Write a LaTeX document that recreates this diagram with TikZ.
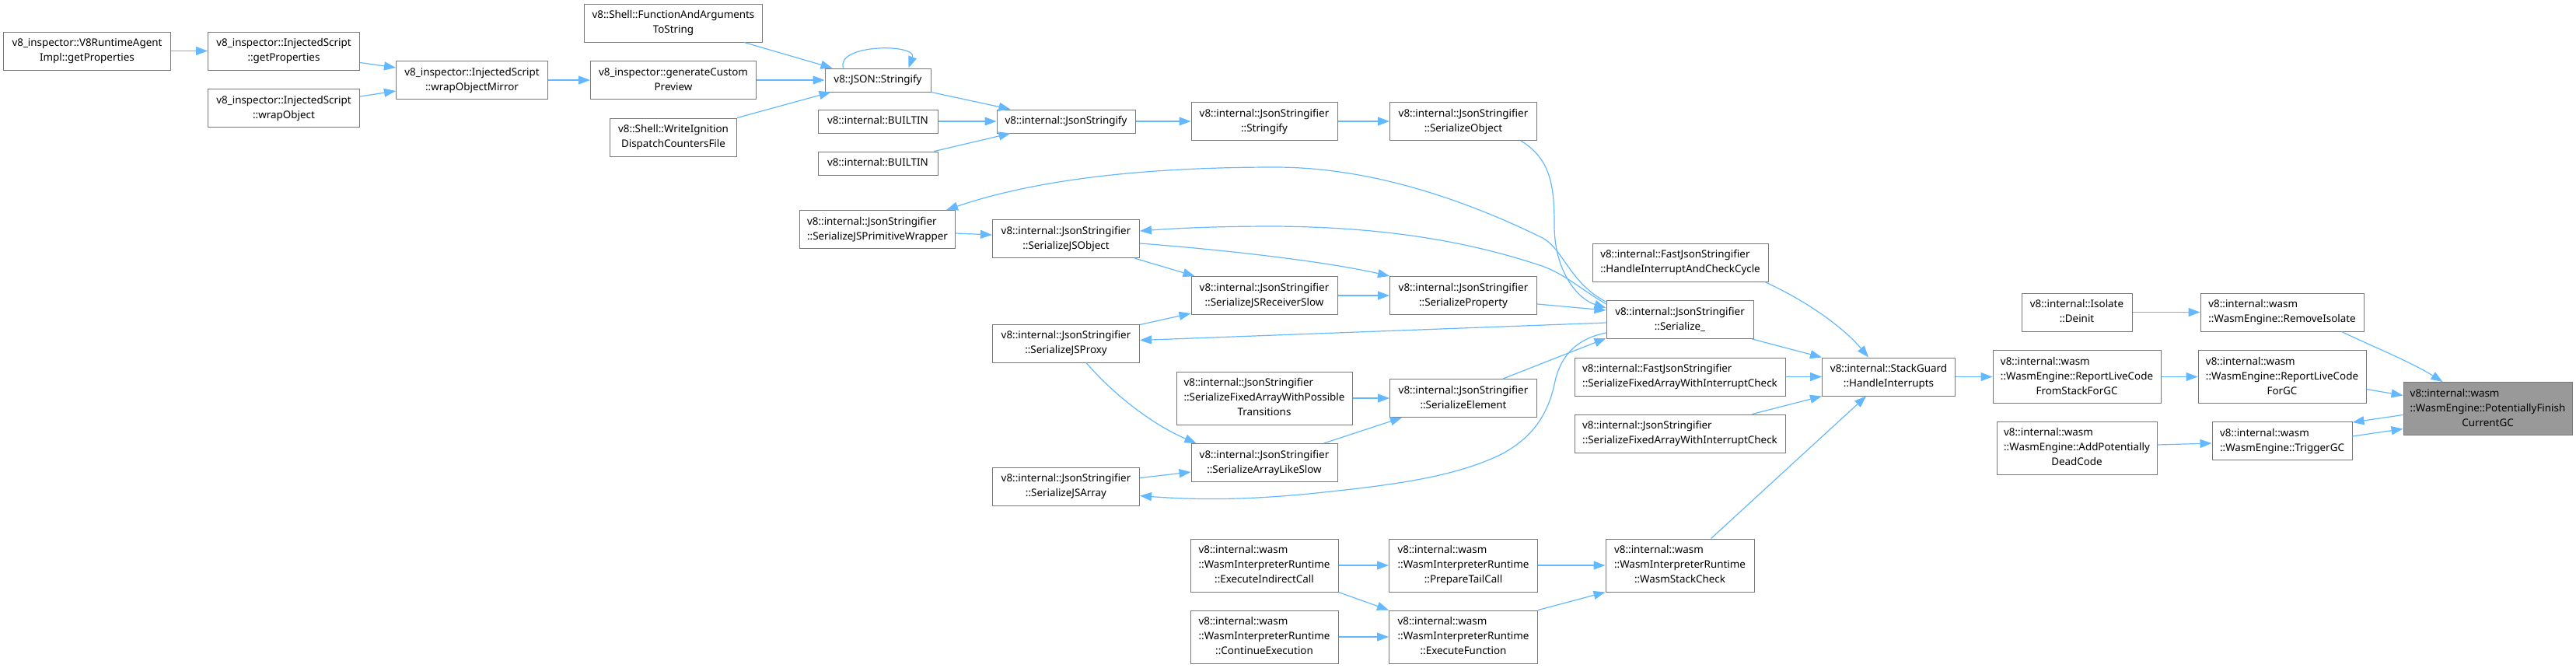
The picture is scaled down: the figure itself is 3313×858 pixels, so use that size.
\documentclass[tikz,border=0pt]{standalone}
\usepackage{fontspec}
\setmainfont{Noto Sans}
\usetikzlibrary{arrows.meta,calc}
\definecolor{edgeblue}{RGB}{99,184,255}
\definecolor{nodeline}{RGB}{120,120,120}
\definecolor{rootfill}{RGB}{153,153,153}
\newcommand{\fnfont}{\fontsize{6.7}{9.5}\selectfont}
\newcommand{\fnlabel}[1]{\begin{tabular}{@{}l@{}}#1\end{tabular}}
\newcommand{\lastc}[1]{\multicolumn{1}{@{}c@{}}{#1}}
\newcommand{\callnode}[6][fnbox]{%
  \node[#1,#5,minimum width=#4pt] (#2) at (#3) {\fnlabel{#6}};%
}
\tikzset{
  fnbox/.style={draw=nodeline,fill=white,line width=0.5pt,inner sep=0pt,font=\fnfont},
  rootbox/.style={fnbox,fill=rootfill},
  lineone/.style={minimum height=15pt},
  linetwo/.style={minimum height=24.5pt},
  linethree/.style={minimum height=34pt},
  callarrow/.style={draw=edgeblue,line width=0.6pt,-{Triangle[length=7.5pt,width=5.5pt]}}
}

\begin{document}
\begin{tikzpicture}[x=0.5pt,y=-0.5pt]
  \useasboundingbox (0,0) rectangle (3313,858);
  % inspector and shell callers
  \callnode{rtagent}{112,65.5}{107.5}{linetwo}{v8\_inspector::V8RuntimeAgent\\\lastc{Impl::getProperties}}
  \callnode{isprops}{365,65.5}{97.5}{linetwo}{v8\_inspector::InjectedScript\\\lastc{::getProperties}}
  \callnode{iswrap}{365,139}{97.5}{linetwo}{v8\_inspector::InjectedScript\\\lastc{::wrapObject}}
  \callnode{ismirror}{607,103}{97.5}{linetwo}{v8\_inspector::InjectedScript\\\lastc{::wrapObjectMirror}}
  \callnode{shellargs}{866,29.5}{114.5}{linetwo}{v8::Shell::FunctionAndArguments\\\lastc{ToString}}
  \callnode{custompreview}{866,103}{106.5}{linetwo}{v8\_inspector::generateCustom\\\lastc{Preview}}
  \callnode{shelldispatch}{866,176.5}{81.5}{linetwo}{v8::Shell::WriteIgnition\\\lastc{DispatchCountersFile}}
  \callnode{jsonapi}{1129,103}{68}{lineone}{v8::JSON::Stringify}
  \callnode{builtina}{1129,156}{77}{lineone}{v8::internal::BUILTIN}
  \callnode{builtinb}{1129,210}{77}{lineone}{v8::internal::BUILTIN}
  \callnode{jsonstringify}{1371,156}{89}{lineone}{v8::internal::JsonStringify}
  \callnode{strfy}{1626,156}{94}{linetwo}{v8::internal::JsonStringifier\\\lastc{::Stringify}}
  \callnode{serobject}{1882,156}{94.5}{linetwo}{v8::internal::JsonStringifier\\\lastc{::SerializeObject}}
  % JsonStringifier
  \callnode{serprimwrap}{1128.5,295}{100}{linetwo}{v8::internal::JsonStringifier\\\lastc{::SerializeJSPrimitiveWrapper}}
  \callnode{serjsobject}{1371,307}{94.5}{linetwo}{v8::internal::JsonStringifier\\\lastc{::SerializeJSObject}}
  \callnode{serrecvslow}{1626,380}{94}{linetwo}{v8::internal::JsonStringifier\\\lastc{::SerializeJSReceiverSlow}}
  \callnode{serproperty}{1882,380}{94.5}{linetwo}{v8::internal::JsonStringifier\\\lastc{::SerializeProperty}}
  \callnode{serproxy}{1371,441.5}{94.5}{linetwo}{v8::internal::JsonStringifier\\\lastc{::SerializeJSProxy}}
  \callnode{serfixedtrans}{1626,512}{113}{linethree}{v8::internal::JsonStringifier\\::SerializeFixedArrayWithPossible\\\lastc{Transitions}}
  \callnode{serelement}{1882,512}{94.5}{linetwo}{v8::internal::JsonStringifier\\\lastc{::SerializeElement}}
  \callnode{serarrayslow}{1626,595}{94}{linetwo}{v8::internal::JsonStringifier\\\lastc{::SerializeArrayLikeSlow}}
  \callnode{serjsarray}{1371,625.5}{94.5}{linetwo}{v8::internal::JsonStringifier\\\lastc{::SerializeJSArray}}
  \callnode{fastcycle}{2161,337.5}{113}{linetwo}{v8::internal::FastJsonStringifier\\\lastc{::HandleInterruptAndCheckCycle}}
  \callnode{serialize}{2160.5,411}{94.5}{linetwo}{v8::internal::JsonStringifier\\\lastc{::Serialize\_}}
  \callnode{fastfixed}{2160.5,484.5}{135.5}{linetwo}{v8::internal::FastJsonStringifier\\\lastc{::SerializeFixedArrayWithInterruptCheck}}
  \callnode{slowfixed}{2160.5,557.5}{135.5}{linetwo}{v8::internal::JsonStringifier\\\lastc{::SerializeFixedArrayWithInterruptCheck}}
  \callnode{stackguard}{2429,484.5}{85.5}{linetwo}{v8::internal::StackGuard\\\lastc{::HandleInterrupts}}
  % wasm interpreter
  \callnode{indirectcall}{1626,727}{95}{linethree}{v8::internal::wasm\\::WasmInterpreterRuntime\\\lastc{::ExecuteIndirectCall}}
  \callnode{continueexec}{1626,819}{95}{linethree}{v8::internal::wasm\\::WasmInterpreterRuntime\\\lastc{::ContinueExecution}}
  \callnode{tailcall}{1882,727}{95.5}{linethree}{v8::internal::wasm\\::WasmInterpreterRuntime\\\lastc{::PrepareTailCall}}
  \callnode{execfunc}{1882,819}{95.5}{linethree}{v8::internal::wasm\\::WasmInterpreterRuntime\\\lastc{::ExecuteFunction}}
  \callnode{stackcheck}{2160.5,727}{95.5}{linethree}{v8::internal::wasm\\::WasmInterpreterRuntime\\\lastc{::WasmStackCheck}}
  % wasm engine
  \callnode{deinit}{2671,401.5}{71}{linetwo}{v8::internal::Isolate\\\lastc{::Deinit}}
  \callnode{removeiso}{2935,401.5}{105}{linetwo}{v8::internal::wasm\\\lastc{::WasmEngine::RemoveIsolate}}
  \callnode{livefromstack}{2671,484.5}{108}{linethree}{v8::internal::wasm\\::WasmEngine::ReportLiveCode\\\lastc{FromStackForGC}}
  \callnode{liveforgc}{2935,484.5}{108}{linethree}{v8::internal::wasm\\::WasmEngine::ReportLiveCode\\\lastc{ForGC}}
  \callnode{deadcode}{2671,576}{103}{linethree}{v8::internal::wasm\\::WasmEngine::AddPotentially\\\lastc{DeadCode}}
  \callnode{triggergc}{2935,567}{90}{linetwo}{v8::internal::wasm\\\lastc{::WasmEngine::TriggerGC}}
  \callnode[rootbox]{finishgc}{3199.5,525.5}{108.5}{linethree}{v8::internal::wasm\\::WasmEngine::PotentiallyFinish\\\lastc{CurrentGC}}

  \draw[callarrow] (rtagent) -- (isprops);
  \draw[callarrow] ($(isprops.east)+(0,15)$) -- ($(ismirror.west)+(0,-16)$);
  \draw[callarrow] ($(iswrap.east)+(0,-15)$) -- ($(ismirror.west)+(0,14)$);
  \draw[callarrow] (ismirror) -- (custompreview);
  \draw[callarrow] ($(shellargs.south east)+(-24,0)$) -- ($(jsonapi.north west)+(10,0)$);
  \draw[callarrow] (custompreview) -- (jsonapi);
  \draw[callarrow] (shelldispatch.north east) -- ($(jsonapi.south west)+(8,0)$);
  \draw[callarrow] ($(jsonapi.north west)+(24,0)$) .. controls (1075,56) and (1180,56) .. ($(jsonapi.north west)+(108,0)$);
  \draw[callarrow] (jsonapi.south east) -- ($(jsonstringify.north west)+(18,0)$);
  \draw[callarrow] (builtina) -- (jsonstringify);
  \draw[callarrow] ($(builtinb.north east)+(-5,0)$) -- ($(jsonstringify.south west)+(18,0)$);
  \draw[callarrow] (jsonstringify) -- (strfy);
  \draw[callarrow] (strfy) -- (serobject);
  % around Serialize_
  \draw[callarrow] ($(serobject.south east)+(-21,0)$) .. controls (1995,205) and (1999,240) .. (1999,290) .. controls (1999,350) and (2030,385) .. ($(serialize.north west)+(0,10)$);
  \draw[callarrow] ($(serproperty.east)+(0,11)$) -- ($(serialize.west)+(0,-12)$);
  \draw[callarrow] ($(serialize.north west)+(0,2)$) .. controls (2020,365) and (2010,320) .. (1984,306) .. controls (1880,255) and (1760,215) .. (1640,215) .. controls (1450,215) and (1320,235) .. ($(serprimwrap.north east)+(-12,0)$);
  \draw[callarrow] ($(serialize.north west)+(0,5)$) .. controls (2030,370) and (2010,350) .. (1977,340) .. controls (1870,305) and (1760,292) .. (1640,291) .. controls (1570,291) and (1520,293) .. ($(serjsobject.east)+(0,-10)$);
  \draw[callarrow] ($(serprimwrap.east)+(0,5)$) -- ($(serjsobject.west)+(0,-5)$);
  \draw[callarrow] ($(serjsobject.east)+(0,6)$) .. controls (1560,320) and (1700,335) .. (serproperty.north west);
  \draw[callarrow] ($(serjsobject.south east)+(-7,0)$) -- ($(serrecvslow.north west)+(5,0)$);
  \draw[callarrow] (serrecvslow) -- (serproperty);
  \draw[callarrow] ($(serialize.west)+(0,4)$) -- ($(serproxy.east)+(0,-4)$);
  \draw[callarrow] ($(serproxy.north east)+(0,1)$) -- ($(serrecvslow.south west)+(0,-2)$);
  \draw[callarrow] ($(serproxy.south east)+(-69,0)$) .. controls (1430,505) and (1480,545) .. ($(serarrayslow.north west)+(7,0)$);
  \draw[callarrow] ($(serjsarray.east)+(0,-11)$) -- ($(serarrayslow.west)+(0,12)$);
  \draw[callarrow] ($(serialize.south west)+(0,-8)$) .. controls (2030,435) and (2008,455) .. (2000,490) .. controls (1990,540) and (1965,565) .. (1933,583) .. controls (1870,615) and (1780,625) .. (1683,635) .. controls (1600,643) and (1540,643) .. ($(serjsarray.east)+(0,12)$);
  \draw[callarrow] ($(serelement.north east)+(-44,0)$) -- ($(serialize.south west)+(0,-1)$);
  \draw[callarrow] (serfixedtrans) -- (serelement);
  \draw[callarrow] ($(serarrayslow.north east)+(-18,0)$) -- ($(serelement.south west)+(16,0)$);
  % into the stack guard
  \draw[callarrow] ($(serialize.south east)+(-2,0)$) -- (stackguard.north west);
  \draw[callarrow] ($(fastcycle.south east)+(-5,0)$) .. controls (2320,385) and (2370,420) .. ($(stackguard.north)+(-26,0)$);
  \draw[callarrow] (fastfixed) -- (stackguard);
  \draw[callarrow] ($(slowfixed.north east)+(-43,0)$) -- (stackguard.south west);
  \draw[callarrow] ($(stackcheck.north)+(40,0)$) -- ($(stackguard.south)+(-29,0)$);
  \draw[callarrow] (stackguard) -- (livefromstack);
  \draw[callarrow] (livefromstack) -- (liveforgc);
  \draw[callarrow] ($(liveforgc.east)+(0,16)$) -- ($(finishgc.west)+(0,-17)$);
  \draw[callarrow] (deinit) -- (removeiso);
  \draw[callarrow] ($(removeiso.south east)+(-29,0)$) .. controls (3050,445) and (3100,465) .. ($(finishgc.north)+(-58,0)$);
  \draw[callarrow] ($(deadcode.east)+(0,-4)$) -- ($(triggergc.west)+(0,3)$);
  \draw[callarrow] ($(triggergc.east)+(0,-6)$) -- ($(finishgc.west)+(0,26)$);
  \draw[callarrow] ($(finishgc.west)+(0,8)$) -- ($(triggergc.north east)+(0,1)$);
  % wasm interpreter calls
  \draw[callarrow] (indirectcall) -- (tailcall);
  \draw[callarrow] (indirectcall.south east) -- (execfunc.north west);
  \draw[callarrow] (continueexec) -- (execfunc);
  \draw[callarrow] (tailcall) -- (stackcheck);
  \draw[callarrow] (execfunc.north east) -- (stackcheck.south west);
\end{tikzpicture}
\end{document}
